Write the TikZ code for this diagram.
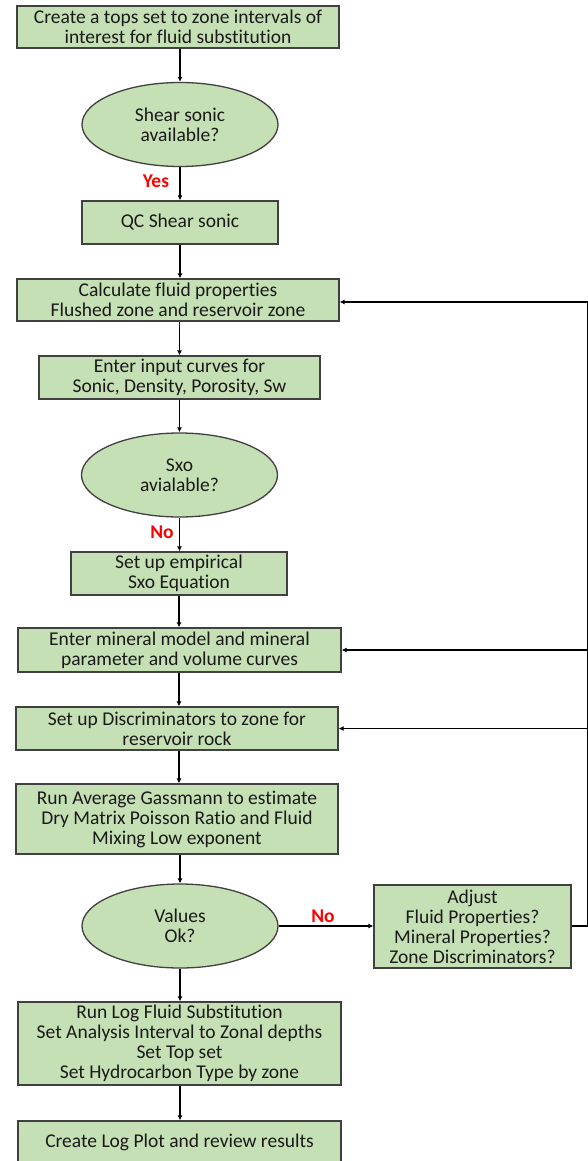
\documentclass[tikz,border=0pt]{standalone}
\usepackage{fontspec}
\setmainfont{Carlito}[Ligatures=NoCommon]
\usepackage{tikz}
\usepackage{xcolor}
\usetikzlibrary{arrows.meta,positioning,shapes.geometric}
\definecolor{fsgreen}{HTML}{C5E0B4}
\definecolor{fsline}{HTML}{404040}
\definecolor{fstext}{HTML}{1A1A1A}
\definecolor{fsred}{HTML}{FF0000}
\tikzset{
  fsbox/.style      = {draw=fsline, fill=fsgreen, line width=1.3pt, align=center,
                       font=\fontsize{19.5}{20}\selectfont, text=fstext,
                       inner sep=0pt},
  task/.style       = {fsbox, rectangle},
  query/.style      = {fsbox, ellipse, minimum width=196pt, minimum height=84pt},
  flow/.style       = {-{Latex[length=5pt,width=5pt]}, draw=black,
                       line width=1.5pt},
  rail/.style       = {draw=black, line width=1.5pt},
  answer/.style     = {font=\fontsize{19.5}{20}\selectfont\bfseries, text=fsred,
                       inner sep=1pt},
}

\begin{document}
\begin{tikzpicture}[x=1pt, y=1pt]
  \useasboundingbox (0,0) rectangle (587,-1161);

  % ---------- main column -----------------------------------------------
  \node[task, minimum width=322pt, minimum height=42pt] (tops) at (178,-27)
    {Create a tops set to zone intervals of\\ interest for fluid substitution};
  \node[query] (shear) at (180,-124.5) {Shear sonic\\ available?};
  \node[task, minimum width=196pt, minimum height=43pt] (qc) at (180,-222.5)
    {QC Shear sonic};
  \node[task, minimum width=322pt, minimum height=42pt] (calc) at (178,-300)
    {Calculate fluid properties\\ Flushed zone and reservoir zone};
  \node[task, minimum width=281pt, minimum height=43pt] (input) at (179.5,-377.5)
    {Enter input curves for\\ Sonic, Density, Porosity, Sw};
  \node[query] (sxo) at (179.5,-475) {Sxo\\ avialable?};
  \node[task, minimum width=216pt, minimum height=43pt] (empirical) at (179,-573.5)
    {Set up empirical\\ Sxo Equation};
  \node[task, minimum width=323pt, minimum height=44pt] (mineral) at (179.5,-650)
    {Enter mineral model and mineral\\ parameter and volume curves};
  \node[task, minimum width=322pt, minimum height=43pt] (discrim) at (177,-728.5)
    {Set up Discriminators to zone for\\ reservoir rock};
  \node[task, minimum width=322pt, minimum height=70pt] (gassmann) at (177,-819)
    {Run Average Gassmann to estimate\\ Dry Matrix Poisson Ratio and Fluid\\
     Mixing Low exponent};
  \node[query] (values) at (180,-926) {Values\\ Ok?};
  \node[task, minimum width=323pt, minimum height=83pt] (runlog) at (179.5,-1043.5)
    {Run Log Fluid Substitution\\ Set Analysis Interval to Zonal depths\\
     Set Top set\\ Set Hydrocarbon Type by zone};
  \node[task, minimum width=323pt, minimum height=42pt] (plot) at (179.5,-1142)
    {Create Log Plot and review results};

  % ---------- side branch -----------------------------------------------
  \node[task, minimum width=197pt, minimum height=83pt] (adjust) at (472.5,-926.5)
    {Adjust\\ Fluid Properties?\\ Mineral Properties?\\ Zone Discriminators?};

  % ---------- connectors: main column -----------------------------------
  \draw[flow] (tops.south -| shear.north) -- (shear.north);
  \draw[flow] (shear.south) -- (qc.north);
  \draw[flow] (qc.south) -- (qc.south |- calc.north);
  \draw[flow] (calc.south -| sxo.north) -- (input.north -| sxo.north);
  \draw[flow] (input.south -| sxo.north) -- (sxo.north);
  \draw[flow] (sxo.south) -- (empirical.north -| sxo.south);
  \draw[flow] (empirical.south) -- (mineral.north -| empirical.south);
  \draw[flow] (mineral.south -| empirical.south) -- (discrim.north -| empirical.south);
  \draw[flow] (discrim.south -| empirical.south) -- (gassmann.north -| empirical.south);
  \draw[flow] (gassmann.south -| values.north) -- (values.north);
  \draw[flow] (values.south) -- (runlog.north -| values.south);
  \draw[flow] (runlog.south -| values.south) -- (plot.north -| values.south);

  % ---------- answers ---------------------------------------------------
  \node[answer] (yes) at (156,-181) {Yes};
  \node[answer] (no1) at (162,-532) {No};
  \node[answer] (no2) at (323,-916) {No};

  % ---------- connectors: loop back -------------------------------------
  \coordinate (rbot) at (588,-926);
  \coordinate (rtop) at (588,-302);
  \draw[flow] (values.east) -- (adjust.west |- values.east);
  \draw[rail] (adjust.east |- rbot) -- (rbot) -- (rtop);
  \draw[flow] (rtop) -- (calc.east |- rtop);
  \draw[flow] (rtop |- mineral.east) -- (mineral.east);
  \draw[flow] (rtop |- discrim.east) -- (discrim.east);

\end{tikzpicture}
\end{document}
